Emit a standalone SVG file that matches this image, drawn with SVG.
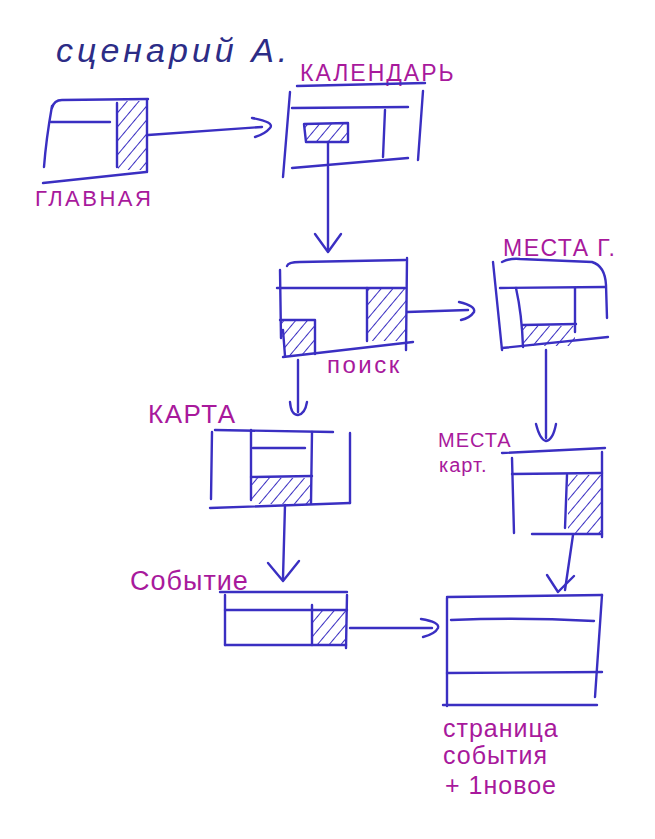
<svg xmlns="http://www.w3.org/2000/svg" width="655" height="839" viewBox="0 0 655 839">
<style>
.p{fill:none;stroke:#3a2fc2;stroke-width:2.4;stroke-linecap:round;stroke-linejoin:round}
.h{fill:url(#hatch);stroke:none}
.lbl{font-family:"Liberation Sans","DejaVu Sans",sans-serif;fill:#a8199c}
.ttl{font-family:"Liberation Sans","DejaVu Sans",sans-serif;fill:#2c2c86;font-style:italic}
</style>
<defs>
<pattern id="hatch" patternUnits="userSpaceOnUse" width="9" height="9" patternTransform="rotate(40)">
<line x1="0" y1="0" x2="0" y2="9" stroke="#3a2fc2" stroke-width="2"/>
</pattern>
</defs>
<rect width="655" height="839" fill="#ffffff"/>
<text class="ttl" x="56" y="62" font-size="34" letter-spacing="4">сценарий А.</text>

<g id="glavnaya">
<rect class="h" x="118" y="101" width="29" height="69"/>
<path class="p" d="M52,108 Q54,100 62,100 L148,99"/>
<path class="p" d="M52,106 Q46,140 44,167"/>
<path class="p" d="M51,122 L110,122"/>
<path class="p" d="M117,103 L117,167"/>
<path class="p" d="M147,100 L147,172"/>
<path class="p" d="M43,183 L146,172"/>
<text class="lbl" x="35" y="206" font-size="22" letter-spacing="2.5">ГЛАВНАЯ</text>
</g>

<g id="kalendar">
<text class="lbl" x="300" y="81" font-size="23" letter-spacing="2">КАЛЕНДАРЬ</text>
<rect class="h" x="305" y="124" width="42" height="17"/>
<path class="p" d="M297,86 L425,83"/>
<path class="p" d="M290,92 L283,177"/>
<path class="p" d="M292,108 L408,107"/>
<path class="p" d="M385,110 L383,157"/>
<path class="p" d="M423,91 L418,160"/>
<path class="p" d="M292,168 L408,158"/>
<path class="p" d="M304,124 L348,123 L348,142 L306,142 Z"/>
</g>

<g id="poisk">
<rect class="h" x="367" y="289" width="39" height="52"/>
<path class="h" d="M280,320 L315,320 L315,354 L285,356 Z"/>
<path class="p" d="M280,320 L315,320 L315,354 M285,356 L283,330"/>
<path class="p" d="M287,266 Q288,262 300,262 L405,260"/>
<path class="p" d="M280,270 L281,338"/>
<path class="p" d="M407,258 L406,350"/>
<path class="p" d="M277,288 L405,288"/>
<path class="p" d="M367,288 L367,341"/>
<path class="p" d="M283,357 L413,342"/>
<text class="lbl" x="327" y="373" font-size="24" letter-spacing="2.5">поиск</text>
</g>

<g id="mesta-g">
<text class="lbl" x="503" y="256" font-size="23" letter-spacing="1.5">МЕСТА Г.</text>
<rect class="h" x="523" y="326" width="52" height="20"/>
<path class="p" d="M493,262 Q497,300 502,350"/>
<path class="p" d="M502,262 Q510,258 520,259 L592,262 Q605,266 606,285 L607,318"/>
<path class="p" d="M500,288 L605,287"/>
<path class="p" d="M516,288 Q522,315 523,347"/>
<path class="p" d="M575,288 L575,332"/>
<path class="p" d="M523,325 L576,324"/>
<path class="p" d="M502,348 L608,337"/>
</g>

<g id="karta">
<text class="lbl" x="148" y="423" font-size="26" letter-spacing="1.5">КАРТА</text>
<rect class="h" x="252" y="478" width="60" height="26"/>
<path class="p" d="M215,430 L333,432"/>
<path class="p" d="M212,432 L211,499"/>
<path class="p" d="M350,433 L350,503"/>
<path class="p" d="M251,430 L251,500"/>
<path class="p" d="M312,432 L311,503"/>
<path class="p" d="M253,448 L305,448"/>
<path class="p" d="M251,477 L312,476"/>
<path class="p" d="M210,508 L350,503"/>
</g>

<g id="mesta-kart">
<text class="lbl" x="438" y="447" font-size="20" letter-spacing="1">МЕСТА</text>
<text class="lbl" x="439" y="472" font-size="20" letter-spacing="1">карт.</text>
<rect class="h" x="568" y="475" width="34" height="59"/>
<path class="p" d="M502,453 L605,448"/>
<path class="p" d="M512,458 L514,533"/>
<path class="p" d="M602,452 L602,537"/>
<path class="p" d="M512,474 L602,473"/>
<path class="p" d="M567,475 L565,528"/>
<path class="p" d="M532,534 L602,534"/>
</g>

<g id="sobytie">
<text class="lbl" x="130" y="590" font-size="27" letter-spacing="1">Событие</text>
<rect class="h" x="312" y="611" width="35" height="34"/>
<path class="p" d="M220,592 L347,592"/>
<path class="p" d="M225,595 L225,645"/>
<path class="p" d="M347,595 L346,648"/>
<path class="p" d="M225,610 L347,610"/>
<path class="p" d="M312,605 L312,645"/>
<path class="p" d="M225,645 L346,645"/>
</g>

<g id="stranitsa">
<path class="p" d="M447,597 L602,595"/>
<path class="p" d="M447,598 L447,706"/>
<path class="p" d="M602,595 L595,697"/>
<path class="p" d="M451,620 Q520,617 594,621"/>
<path class="p" d="M447,673 L602,672"/>
<path class="p" d="M443,705 L597,705"/>
<text class="lbl" x="443" y="737" font-size="25" letter-spacing="1">страница</text>
<text class="lbl" x="443" y="764" font-size="25" letter-spacing="1">события</text>
<text class="lbl" x="445" y="794" font-size="25" letter-spacing="1">+ 1новое</text>
</g>

<g id="connectors">
<path class="p" d="M148,135 L262,127"/>
<path class="p" d="M252,118 Q275,122 270,128 Q265,134 255,137"/>
<path class="p" d="M328,142 L328,250"/>
<path class="p" d="M315,234 L328,252 L341,234"/>
<path class="p" d="M407,312 L468,310"/>
<path class="p" d="M459,302 Q476,306 474,312 Q470,318 461,320"/>
<path class="p" d="M546,350 L546,438"/>
<path class="p" d="M536,424 Q540,440 546,441 Q553,440 556,424"/>
<path class="p" d="M298,360 L298,412"/>
<path class="p" d="M290,402 Q291,415 298,415 Q305,414 307,402"/>
<path class="p" d="M285,505 L283,578"/>
<path class="p" d="M268,563 L283,581 L299,561"/>
<path class="p" d="M350,628 L432,628"/>
<path class="p" d="M421,619 Q440,622 438,628 Q435,634 423,637"/>
<path class="p" d="M573,535 L565,590"/>
<path class="p" d="M547,575 L558,592 L574,576"/>
</g>
</svg>
